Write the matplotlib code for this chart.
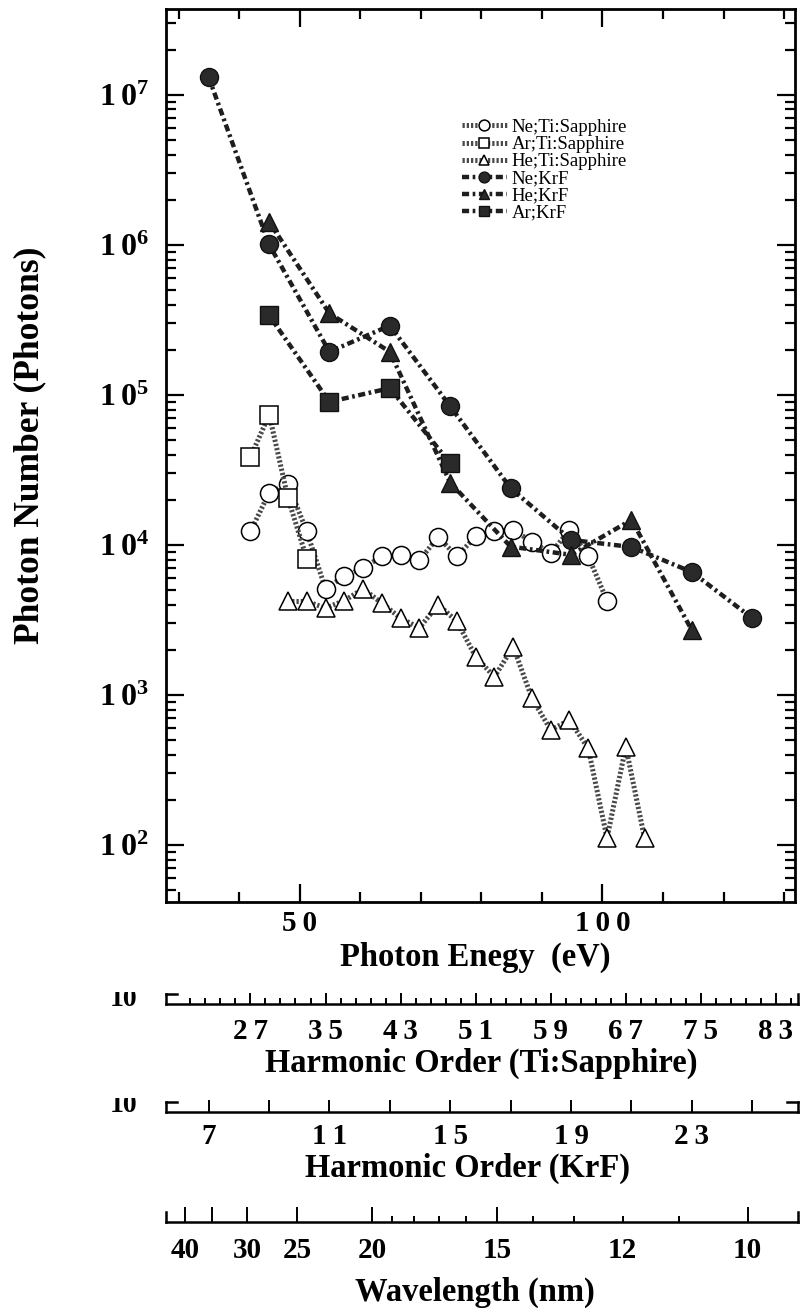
import numpy as np
import matplotlib
matplotlib.use('Agg')
import matplotlib.pyplot as plt
from matplotlib.ticker import FuncFormatter, NullFormatter, LogLocator
from matplotlib.transforms import Bbox, TransformedBbox

plt.rcParams['font.family'] = ['Liberation Serif', 'DejaVu Serif']
plt.rcParams['font.weight'] = 'bold'
plt.rcParams['axes.labelweight'] = 'bold'
plt.rcParams['mathtext.fontset'] = 'custom'
plt.rcParams['mathtext.rm'] = 'Liberation Serif'
plt.rcParams['mathtext.bf'] = 'Liberation Serif:bold'

E_TI = 1.55   # eV per Ti:Sapphire photon
E_KRF = 4.99  # eV per KrF photon
HC = 1239.84  # eV nm

# harmonic orders and photon numbers
ne_ti_order = [27, 29, 31, 33, 35, 37, 39, 41, 43, 45, 47, 49, 51, 53, 55, 57, 59, 61, 63, 65]
ne_ti = [1.23e4, 2.23e4, 2.55e4, 1.23e4, 5.1e3, 6.2e3, 7.0e3, 8.4e3, 8.6e3, 7.9e3,
         1.13e4, 8.4e3, 1.14e4, 1.23e4, 1.26e4, 1.05e4, 8.8e3, 1.26e4, 8.4e3, 4.25e3]
ar_ti_order = [27, 29, 31, 33]
ar_ti = [3.85e4, 7.4e4, 2.05e4, 8.1e3]
he_ti_order = [31, 33, 35, 37, 39, 41, 43, 45, 47, 49, 51, 53, 55, 57, 59, 61, 63, 65, 67, 69]
he_ti = [4.2e3, 4.2e3, 3.8e3, 4.25e3, 5.1e3, 4.1e3, 3.25e3, 2.8e3, 4.0e3, 3.1e3,
         1.8e3, 1.32e3, 2.1e3, 950, 585, 680, 440, 111, 452, 111]
ne_krf_order = [7, 9, 11, 13, 15, 17, 19, 21, 23, 25]
ne_krf = [1.32e7, 1.01e6, 1.94e5, 2.9e5, 8.4e4, 2.39e4, 1.08e4, 9.7e3, 6.6e3, 3.25e3]
he_krf_order = [9, 11, 13, 15, 17, 19, 21, 23]
he_krf = [1.43e6, 3.5e5, 1.94e5, 2.6e4, 9.75e3, 8.6e3, 1.47e4, 2.7e3]
ar_krf_order = [9, 11, 13, 15]
ar_krf = [3.4e5, 9.0e4, 1.11e5, 3.5e4]

ti_ticks = [27, 35, 43, 51, 59, 67, 75, 83]
krf_ticks = [7, 11, 15, 19, 23]
krf_minor = [9, 13, 17, 21, 25]
wl_major = [40, 35, 30, 25, 20, 15, 10]
wl_major_lbl = ['40', '', '30', '25', '20', '15', '10']
wl_minor = [19, 18, 17, 16, 14, 13, 12, 11]
wl_minor_lbl = ['', '', '', '', '', '', '12', '']

W, H = 803, 1312
X0, X1, X1_LOW = 27.9, 131.8, 132.3
LBL = 23.5
TCK = 21


def spaced(v, pos=None):
    # the scanned labels have wide letter spacing
    return '\u2009'.join(str(int(round(v))))


fig = plt.figure(figsize=(W / 100, H / 100), dpi=100)
ax = fig.add_axes([166 / W, 1 - 902 / H, 629 / W, 893 / H])

ti = dict(color='#4a4a4a', lw=3.6, ls=(0, (0.45, 0.4)), mfc='white', mec='black', mew=1.1, ms=13)
kf = dict(color='#1e1e1e', lw=3.2, ls=(0, (1.6, 0.8, 0.6, 0.8)), mfc='#2a2a2a', mec='#111111', mew=1, ms=13)

ax.plot(np.array(ne_ti_order) * E_TI, ne_ti, marker='o', label='Ne;Ti:Sapphire', **ti)
ax.plot(np.array(ar_ti_order) * E_TI, ar_ti, marker='s', label='Ar;Ti:Sapphire', **ti)
ax.plot(np.array(he_ti_order) * E_TI, he_ti, marker='^', label='He;Ti:Sapphire', **ti)
ax.plot(np.array(ne_krf_order) * E_KRF, ne_krf, marker='o', label='Ne;KrF', **kf)
ax.plot(np.array(he_krf_order) * E_KRF, he_krf, marker='^', label='He;KrF', **kf)
ax.plot(np.array(ar_krf_order) * E_KRF, ar_krf, marker='s', label='Ar;KrF', **kf)

ax.set_yscale('log')
ax.set_xlim(X0, X1)
ax.set_ylim(10 ** 1.62, 10 ** 7.573)
ax.set_xticks([50, 100])
ax.set_xticks([30, 40, 60, 70, 80, 90, 110, 120, 130], minor=True)
ax.xaxis.set_major_formatter(FuncFormatter(spaced))
ax.yaxis.set_major_locator(LogLocator(base=10))
ax.yaxis.set_minor_locator(LogLocator(base=10, subs=np.arange(2, 10)))
ax.yaxis.set_major_formatter(FuncFormatter(lambda v, p: r'$\mathbf{1\,0^{%d}}$' % round(np.log10(v))))
ax.yaxis.set_minor_formatter(NullFormatter())
ax.tick_params(which='both', direction='in', top=True, right=True, width=1.6, labelsize=TCK)
ax.tick_params(axis='y', labelsize=23)
ax.tick_params(which='major', length=13)
ax.tick_params(which='minor', length=7)
ax.tick_params(axis='x', pad=6)
ax.tick_params(axis='y', pad=12)
for s in ax.spines.values():
    s.set_linewidth(2)

ax.set_xlabel('Photon Enegy  (eV)', fontsize=LBL)
ax.xaxis.set_label_coords(475 / W, 1 - 957 / H, transform=fig.transFigure)
ax.xaxis.label.set_va('center')
ax.set_ylabel('Photon Number (Photons)', fontsize=LBL + 2)
ax.yaxis.set_label_coords(30 / W, 1 - 445 / H, transform=fig.transFigure)
ax.yaxis.label.set_va('center')

ax.legend(loc='upper left', bbox_to_anchor=(0.47, 0.877), frameon=False,
          prop={'family': 'Liberation Serif', 'weight': 'normal', 'size': 13.5},
          markerscale=0.6, handlelength=2.4, handletextpad=0.25, labelspacing=0.0,
          borderpad=0, borderaxespad=0)


def scale_axis(y_line, conv, left=True, right=True):
    a = fig.add_axes([166 / W, 1 - y_line / H, 632 / W, 10 / H])
    a.set_xlim(X0 / conv, X1_LOW / conv)
    a.set_yticks([])
    a.patch.set_alpha(0)
    a.spines['top'].set_visible(False)
    a.spines['left'].set_visible(left)
    a.spines['right'].set_visible(right)
    for s in a.spines.values():
        s.set_linewidth(1.8)
    a.tick_params(which='both', direction='in', width=1.4, labelsize=TCK)
    return a


# Ti:Sapphire harmonic order scale
ax_ti = scale_axis(1004, E_TI)
ax_ti.set_xticks(ti_ticks)
ax_ti.xaxis.set_major_formatter(FuncFormatter(spaced))
ti_minor = [27 + 1.6 * k for k in range(-4, 37) if k % 5 != 0]
ax_ti.set_xticks([m for m in ti_minor if 18.2 < m < 85.2], minor=True)
ax_ti.tick_params(which='major', length=8, pad=10)
ax_ti.tick_params(which='minor', length=4)
ax_ti.set_xlabel('Harmonic Order (Ti:Sapphire)', fontsize=LBL)
ax_ti.xaxis.set_label_coords(481 / W, 1 - 1063 / H, transform=fig.transFigure)
ax_ti.xaxis.label.set_va('center')
ax_ti.plot([0, 0.018], [1, 1], transform=ax_ti.transAxes, color='black', lw=1.8, clip_on=False)

# KrF harmonic order scale
ax_kf = scale_axis(1112, E_KRF)
ax_kf.set_xticks(krf_ticks)
ax_kf.xaxis.set_major_formatter(FuncFormatter(spaced))
ax_kf.set_xticks(krf_minor, minor=True)
ax_kf.tick_params(which='both', length=9, pad=8)
ax_kf.set_xlabel('Harmonic Order (KrF)', fontsize=LBL)
ax_kf.xaxis.set_label_coords(468 / W, 1 - 1168 / H, transform=fig.transFigure)
ax_kf.xaxis.label.set_va('center')
ax_kf.plot([0, 0.018], [1, 1], transform=ax_kf.transAxes, color='black', lw=1.8, clip_on=False)
ax_kf.plot([0.982, 1], [1, 1], transform=ax_kf.transAxes, color='black', lw=1.8, clip_on=False)

# wavelength scale
ax_wl = scale_axis(1222, 1.0, left=True, right=True)
ax_wl.set_xticks([HC / w for w in wl_major], wl_major_lbl)
ax_wl.set_xticks([HC / w for w in wl_minor], wl_minor_lbl, minor=True)
ax_wl.tick_params(which='major', length=11, pad=11)
ax_wl.tick_params(which='minor', length=4, pad=11)
ax_wl.set_xlabel('Wavelength (nm)', fontsize=LBL)
ax_wl.xaxis.set_label_coords(475 / W, 1 - 1292 / H, transform=fig.transFigure)
ax_wl.xaxis.label.set_va('center')

# clipped "10" fragments left of the order scales
for yc in (999, 1105):
    t = fig.text(124 / W, 1 - yc / H, '10', fontsize=20, ha='center', va='center')
    t.set_clip_box(TransformedBbox(Bbox([[0, 0], [0.3, 1 - (yc - 7) / H]]), fig.transFigure))
    t.set_clip_on(True)

fig.savefig('out.png', dpi=100)
